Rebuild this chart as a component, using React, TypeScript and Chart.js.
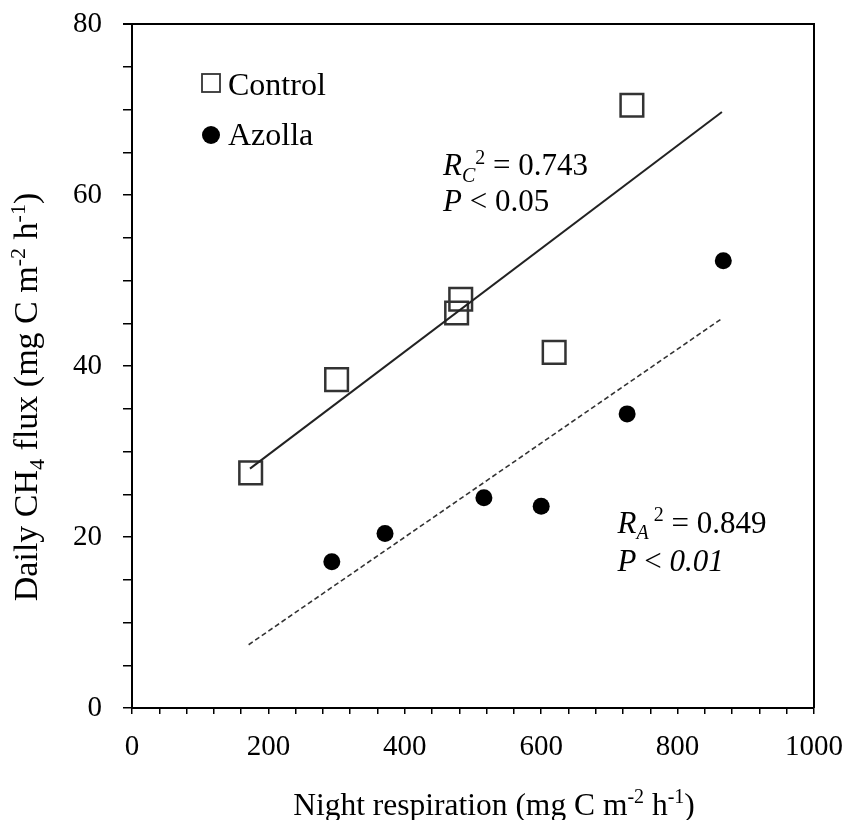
import React, { useEffect, useRef } from "react";
import { Chart, registerables } from "chart.js";

Chart.register(...registerables);

// ---- data ----
const controlX = [174, 300, 476, 482, 619, 733];
const controlY = [27.5, 38.4, 46.2, 47.8, 41.6, 70.5];
const azollaX = [293, 371, 516, 600, 726, 867];
const azollaY = [17.1, 20.4, 24.6, 23.6, 34.4, 52.3];
// regression line end points
const controlFitX = [173, 865];
const controlFitY = [28.0, 69.7];
const azollaFitX = [171, 864];
const azollaFitY = [7.4, 45.5];
// axis ticks
const xMin = 0, xMax = 1000, xStep = 40, xLabelEvery = 200;
const yMin = 0, yMax = 80, yStep = 5, yLabelEvery = 20;
const seriesNames = ["Control", "Azolla"];

const FONT = "'Liberation Serif', 'Times New Roman', serif";
const TICK = 29;

type Seg = { t: string; it?: boolean; sm?: boolean; dy?: number };

function segFont(s: Seg, base: number) {
  const size = s.sm ? Math.round(base * 0.64) : base;
  return `${s.it ? "italic " : ""}${size}px ${FONT}`;
}
function richWidth(ctx: CanvasRenderingContext2D, segs: Seg[], base: number) {
  let w = 0;
  for (const s of segs) {
    ctx.font = segFont(s, base);
    w += ctx.measureText(s.t).width;
  }
  return w;
}
function drawRich(ctx: CanvasRenderingContext2D, segs: Seg[], x: number, y: number, base: number) {
  let cx = x;
  ctx.textBaseline = "alphabetic";
  ctx.textAlign = "left";
  for (const s of segs) {
    ctx.font = segFont(s, base);
    ctx.fillText(s.t, cx, y + (s.dy || 0) * base / 30);
    cx += ctx.measureText(s.t).width;
  }
}

const zip = (xs: number[], ys: number[]) => xs.map((x, i) => ({ x, y: ys[i] }));

const decorPlugin = {
  id: "decor",
  afterDraw(chart: any) {
    const ctx: CanvasRenderingContext2D = chart.ctx;
    const { left, right, top, bottom } = chart.chartArea;
    const xs = chart.scales.x;
    const ys = chart.scales.y;
    ctx.save();
    ctx.fillStyle = "#000";
    ctx.strokeStyle = "#000";
    // frame top/right
    ctx.lineWidth = 2;
    ctx.beginPath();
    ctx.moveTo(left - 9, top);
    ctx.lineTo(right, top);
    ctx.lineTo(right, bottom);
    ctx.stroke();

    // legend
    ctx.lineWidth = 1.8;
    ctx.strokeStyle = "#333";
    ctx.strokeRect(202, 74, 18, 18);
    ctx.beginPath();
    ctx.arc(211, 135, 9, 0, Math.PI * 2);
    ctx.fill();
    ctx.font = `32px ${FONT}`;
    ctx.textBaseline = "alphabetic";
    ctx.textAlign = "left";
    ctx.fillText(seriesNames[0], 228, 95);
    ctx.fillText(seriesNames[1], 228, 145);

    // annotations
    const AF = 31;
    const ax1 = xs.getPixelForValue(456);
    drawRich(ctx, [
      { t: "R", it: true },
      { t: "C", it: true, sm: true, dy: 6 },
      { t: "2", sm: true, dy: -11 },
      { t: " = 0.743" },
    ], ax1, ys.getPixelForValue(62.3), AF);
    drawRich(ctx, [{ t: "P", it: true }, { t: " < 0.05" }], ax1, ys.getPixelForValue(58.1), AF);

    const ax2 = xs.getPixelForValue(712);
    drawRich(ctx, [
      { t: "R", it: true },
      { t: "A", it: true, sm: true, dy: 6 },
      { t: " 2", sm: true, dy: -11 },
      { t: " = 0.849" },
    ], ax2, ys.getPixelForValue(20.5), AF);
    drawRich(ctx, [{ t: "P", it: true }, { t: " < " }, { t: "0.01", it: true }], ax2, ys.getPixelForValue(16.0), AF);

    // x title
    const XF = 31.5;
    const xt: Seg[] = [
      { t: "Night respiration (mg C m" },
      { t: "-2", sm: true, dy: -11 },
      { t: " h" },
      { t: "-1", sm: true, dy: -11 },
      { t: ")" },
    ];
    const xw = richWidth(ctx, xt, XF);
    drawRich(ctx, xt, 494 - xw / 2, 815, XF);

    // y title
    const YF = 34;
    const yt: Seg[] = [
      { t: "Daily CH" },
      { t: "4", sm: true, dy: 6 },
      { t: " flux (mg C m" },
      { t: "-2", sm: true, dy: -11 },
      { t: " h" },
      { t: "-1", sm: true, dy: -11 },
      { t: ")" },
    ];
    const yw = richWidth(ctx, yt, YF);
    ctx.translate(37, 397);
    ctx.rotate(-Math.PI / 2);
    drawRich(ctx, yt, -yw / 2, 0, YF);
    ctx.restore();
  },
};

export default function App() {
  const ref = useRef<HTMLCanvasElement>(null);
  useEffect(() => {
    if (!ref.current) return;
    const tickFont = { family: FONT, size: TICK };
    const chart = new Chart(ref.current, {
      type: "scatter",
      data: {
        datasets: [
          {
            label: "Control fit",
            data: zip(controlFitX, controlFitY),
            showLine: true,
            borderColor: "#222",
            borderWidth: 2,
            pointRadius: 0,
          },
          {
            label: "Azolla fit",
            data: zip(azollaFitX, azollaFitY),
            showLine: true,
            borderColor: "#333",
            borderWidth: 1.6,
            borderDash: [5, 3],
            pointRadius: 0,
          },
          {
            label: seriesNames[0],
            data: zip(controlX, controlY),
            pointStyle: "rect",
            pointRadius: 16,
            borderColor: "#333",
            borderWidth: 2.5,
            backgroundColor: "rgba(0,0,0,0)",
          },
          {
            label: seriesNames[1],
            data: zip(azollaX, azollaY),
            pointStyle: "circle",
            pointRadius: 8.5,
            borderWidth: 0,
            backgroundColor: "#000",
            borderColor: "#000",
          },
        ],
      },
      options: {
        responsive: false,
        animation: false,
        devicePixelRatio: 1,
        layout: { padding: { left: 0, top: 24, right: 34, bottom: 0 } },
        plugins: { legend: { display: false }, tooltip: { enabled: false } },
        scales: {
          x: {
            type: "linear",
            min: xMin,
            max: xMax,
            afterFit: (s: any) => {
              s.height = 112;
              s.paddingLeft = 0;
              s.paddingRight = 0;
            },
            ticks: {
              stepSize: xStep,
              autoSkip: false,
              maxRotation: 0,
              padding: 16,
              color: "#000",
              font: tickFont,
              callback: (v: any) => (v % xLabelEvery === 0 ? String(v) : ""),
            },
            grid: { drawOnChartArea: false, drawTicks: true, tickLength: 6, color: "#000", lineWidth: 1.5 },
            border: { display: true, color: "#000", width: 2 },
          },
          y: {
            type: "linear",
            min: yMin,
            max: yMax,
            afterFit: (s: any) => {
              s.width = 132;
              s.paddingTop = 0;
              s.paddingBottom = 0;
            },
            ticks: {
              stepSize: yStep,
              autoSkip: false,
              padding: 21,
              color: "#000",
              font: tickFont,
              callback: (v: any) => (v % yLabelEvery === 0 ? String(v) : ""),
            },
            grid: { drawOnChartArea: false, drawTicks: true, tickLength: 9, color: "#000", lineWidth: 1.5 },
            border: { display: true, color: "#000", width: 2 },
          },
        },
      },
      plugins: [decorPlugin],
    } as any);
    return () => chart.destroy();
  }, []);
  return (
    <div style={{ position: "absolute", left: 0, top: 0, width: 848, height: 820, background: "#fff" }}>
      <canvas ref={ref} width={848} height={820} />
    </div>
  );
}
